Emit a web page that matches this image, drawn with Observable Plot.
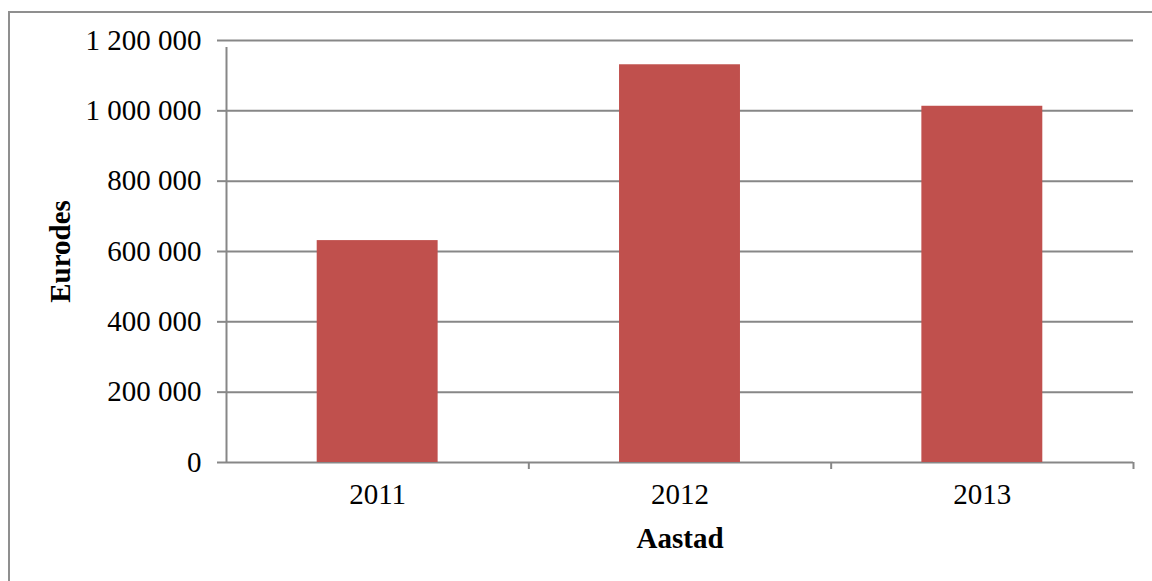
<!DOCTYPE html>
<html><head><meta charset="utf-8">
<script src="https://cdn.jsdelivr.net/npm/d3@7"></script>
<script src="https://cdn.jsdelivr.net/npm/@observablehq/plot@0.6"></script>
<style>
html,body{margin:0;padding:0;background:#fff;overflow:hidden;width:1152px;height:581px;}
#frame{position:absolute;left:8px;top:11px;width:1300px;height:700px;border-left:2px solid #8f8f8f;border-top:2px solid #8f8f8f;}
#chart{position:absolute;left:0;top:0;}
</style></head><body>
<div id="frame"></div><div id="chart"></div>
<script>
const years = ["2011", "2012", "2013"];
const values = [631000, 1131000, 1013000];
const yTicks = [0, 200000, 400000, 600000, 800000, 1000000, 1200000];
const xLabel = "Aastad";
const yLabel = "Eurodes";

const W = 1152, H = 581;
const mL = 226, mR = 19, mT = 40, mB = 119;
const step = (W - mL - mR) / years.length;
const grid = "#878787";
const fmt = d => d3.format(",")(d).replace(/,/g, " ");
const data = years.map((y, i) => ({year: y, value: values[i]}));

const chart = Plot.plot({
  width: W, height: H,
  marginLeft: mL, marginRight: mR, marginTop: mT, marginBottom: mB,
  style: {fontFamily: "'Liberation Serif', 'Times New Roman', serif", fontSize: "29px", color: "black", background: "transparent"},
  x: {domain: years, paddingInner: 0.6, paddingOuter: 0.3, round: false},
  y: {domain: [0, 1200000]},
  marks: [
    Plot.ruleY(yTicks, {stroke: grid, strokeWidth: 2}),
    Plot.ruleX([years[0]], {x: d => d, y1: 0, y2: 1200000, dx: -step / 2, insetBottom: -7, stroke: grid, strokeWidth: 2}),
    Plot.ruleX(years.slice(1), {x: d => d, y1: 0, y2: 0, dx: -step / 2, insetBottom: -7, stroke: grid, strokeWidth: 2}),
    Plot.ruleX(years.slice(-1), {x: d => d, y1: 0, y2: 0, dx: step / 2, insetBottom: -7, stroke: grid, strokeWidth: 2}),
    Plot.barY(data, {x: "year", y: "value", fill: "#C0504D"}),
    Plot.axisY({ticks: yTicks, tickFormat: fmt, tickSize: 9, tickPadding: 16, stroke: grid, strokeWidth: 2, fill: "black", label: null}),
    Plot.axisX({tickSize: 0, tickPadding: 21, fill: "black", label: null}),
    Plot.text([xLabel], {frameAnchor: "bottom", dy: 76, fontWeight: "bold", fill: "black", lineAnchor: "middle", textAnchor: "middle"}),
    Plot.text([yLabel], {frameAnchor: "left", rotate: -90, dx: -166, dy: 0, fontWeight: "bold", fill: "black", lineAnchor: "middle", textAnchor: "middle"})
  ]
});
document.getElementById("chart").appendChild(chart);
</script>
</body></html>
